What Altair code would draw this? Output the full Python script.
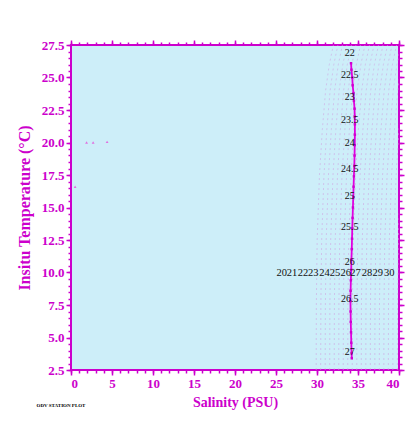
import altair as alt
import pandas as pd

MAG = "#cc00cc"
FONT = "Liberation Serif"

# Axis ticks
x_major = [0, 5, 10, 15, 20, 25, 30, 35, 40]
x_minor = list(range(0, 41))
y_major = [2.5, 5.0, 7.5, 10.0, 12.5, 15.0, 17.5, 20.0, 22.5, 25.0, 27.5]
y_minor = [2.5 + 0.5 * i for i in range(51)]

# Profile (salinity, temperature)
prof_S = [34.15, 34.2, 34.3, 34.35, 34.45, 34.5, 34.58, 34.6, 34.62, 34.62, 34.6,
          34.58, 34.55, 34.5, 34.46, 34.42, 34.38, 34.34, 34.3, 34.27, 34.24, 34.2,
          34.17, 34.13, 34.1, 34.08, 34.1, 34.12, 34.15, 34.18, 34.22, 34.24]
prof_T = [26.1, 25.6, 25.0, 24.4, 23.8, 23.2, 22.6, 22.0, 21.4, 20.6, 19.8,
          19.0, 18.2, 17.4, 16.6, 15.8, 15.0, 14.2, 13.4, 12.6, 11.8, 11.0,
          10.2, 9.4, 8.6, 7.8, 7.0, 6.2, 5.4, 4.6, 3.8, 3.4]

# Stray points
out_S = [1.9, 2.7, 4.4, 0.5]
out_T = [20.0, 20.0, 20.05, 16.6]

# Isolines: salinity at bottom for each line, and common bend with temperature
iso_S0 = [29.9 + 0.55 * i for i in range(19)]
iso_T = [2.5, 7.5, 12.5, 17.5, 21.0, 24.0, 26.0, 27.5]
iso_bend = [0.0, 0.02, 0.12, 0.4, 0.75, 1.15, 1.6, 2.1]

# Labels along the profile
lab1_txt = ["22", "22.5", "23", "23.5", "24", "24.5", "25", "25.5", "26", "26.5", "27"]
lab1_T = [26.88, 25.19, 23.5, 21.73, 19.96, 17.96, 15.88, 13.5, 10.81, 7.96, 3.88]
lab1_S = [34.0] * len(lab1_txt)

# Row of labels at T=10
lab2_txt = ["20", "21", "22", "23", "24", "25", "26", "27", "28", "29", "30"]
lab2_S = [25.7, 26.95, 28.3, 29.55, 30.9, 32.2, 33.5, 34.7, 36.1, 37.4, 38.8]
lab2_T = [10.0] * len(lab2_txt)

rows = []
for i, s0 in enumerate(iso_S0):
    for t, b in zip(iso_T, iso_bend):
        rows.append({"line": i, "S": s0 + b, "T": t})
iso_df = pd.DataFrame(rows)
prof_df = pd.DataFrame({"S": prof_S, "T": prof_T})
out_df = pd.DataFrame({"S": out_S, "T": out_T})
lab1_df = pd.DataFrame({"S": lab1_S, "T": lab1_T, "txt": lab1_txt})
lab2_df = pd.DataFrame({"S": lab2_S, "T": lab2_T, "txt": lab2_txt})

xs = alt.Scale(domain=[0, 40], nice=False, zero=False)
ys = alt.Scale(domain=[2.5, 27.5], nice=False, zero=False)

common = dict(domain=False, tickColor=MAG, tickWidth=1.5, labelColor=MAG,
              labelFont=FONT, labelFontWeight="bold", labelFontSize=13,
              titleColor=MAG, titleFont=FONT, titleFontWeight="bold",
              titleFontSize=14, grid=False)

def ax(orient, values, size, labels=False, title=None, **kw):
    d = dict(common)
    d.update(kw)
    if title is None:
        return alt.Axis(orient=orient, values=values, tickSize=size, labels=labels,
                        title=None, **d)
    return alt.Axis(orient=orient, values=values, tickSize=size, labels=labels,
                    title=title, **d)

iso = alt.Chart(iso_df).mark_line(strokeDash=[2, 3], strokeWidth=0.6,
                                  color="#cfa6e3", clip=True).encode(
    x=alt.X("S:Q", scale=xs, axis=ax("bottom", x_major, 5, True, "Salinity (PSU)",
                                     labelPadding=2, titlePadding=5,
                                     labelExpr="format(datum.value, 'd')")),
    y=alt.Y("T:Q", scale=ys, axis=ax("left", y_major, 5, True,
                                     "Insitu Temperature (\u00b0C)",
                                     labelPadding=2, titlePadding=9,
                                     titleFontSize=16, format=".1f")),
    detail="line:N",
    order="T:Q",
)

line = alt.Chart(prof_df).mark_line(color="#e000e0", strokeWidth=1.8).encode(
    x=alt.X("S:Q", scale=xs, axis=ax("bottom", x_minor, 3)),
    y=alt.Y("T:Q", scale=ys, axis=ax("left", y_minor, 3)),
    order="T:Q",
)

pts = alt.Chart(prof_df).mark_point(shape="square", filled=True, size=6,
                                    color="#d000d0", opacity=1).encode(
    x=alt.X("S:Q", scale=xs, axis=ax("top", x_major, 5)),
    y=alt.Y("T:Q", scale=ys, axis=ax("right", y_major, 5)),
)

outl = alt.Chart(out_df).mark_point(shape="triangle-up", filled=True, size=8,
                                    color="#e070e0", opacity=1).encode(
    x=alt.X("S:Q", scale=xs, axis=ax("top", x_minor, 3)),
    y=alt.Y("T:Q", scale=ys, axis=ax("right", y_minor, 3)),
)

t1 = alt.Chart(lab1_df).mark_text(font=FONT, fontSize=10, color="#111111").encode(
    x=alt.X("S:Q", scale=xs, axis=None),
    y=alt.Y("T:Q", scale=ys, axis=None),
    text="txt:N",
)

t2 = alt.Chart(lab2_df).mark_text(font=FONT, fontSize=10.5, color="#111111").encode(
    x=alt.X("S:Q", scale=xs, axis=None),
    y=alt.Y("T:Q", scale=ys, axis=None),
    text="txt:N",
)

foot = alt.Chart(pd.DataFrame({"txt": ["ODV STATION PLOT"]})).mark_text(
    font=FONT, fontSize=5, fontWeight="bold", color="black").encode(
    x=alt.value(-10), y=alt.value(360), text="txt:N")

chart = alt.layer(iso, line, pts, outl, t1, t2, foot).resolve_axis(
    x="independent", y="independent"
).properties(
    width=328, height=325,
    autosize=alt.AutoSizeParams(type="none"),
    padding={"left": 63, "top": 37, "right": 11, "bottom": 40},
).configure_view(fill="#cdeef9", stroke=MAG, strokeWidth=2)

chart.save("out.html", embed_options={"renderer": "svg", "actions": False})
